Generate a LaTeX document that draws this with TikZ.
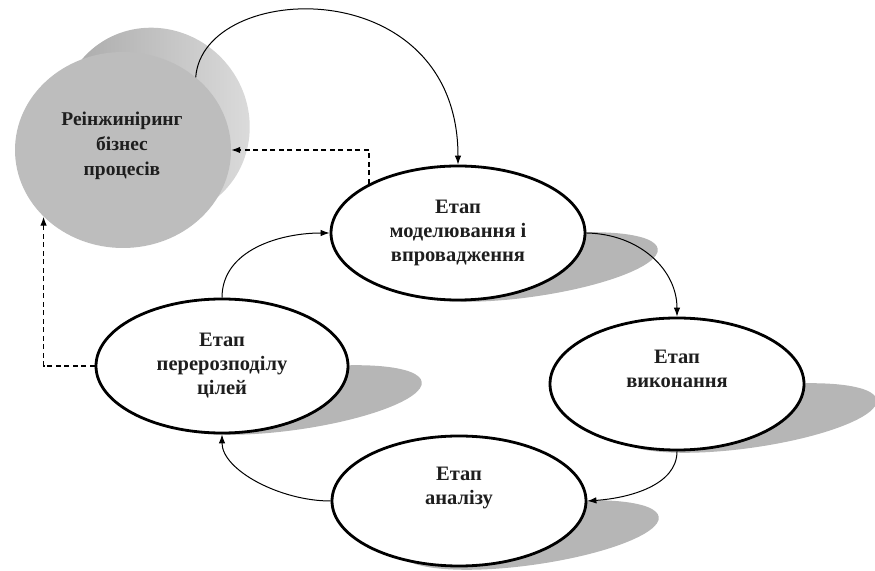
\documentclass[tikz,border=0pt]{standalone}
\usepackage{fontspec}
\setmainfont{Liberation Serif}
\usetikzlibrary{arrows.meta,shapes.geometric}
\definecolor{facegray}{HTML}{BDBDBD}
\definecolor{backdark}{HTML}{A8A8A8}
\definecolor{backlight}{HTML}{DCDCDC}
\definecolor{shadowgray}{HTML}{B6B6B6}
\definecolor{txt}{HTML}{1E1E1E}
\begin{document}
\begin{tikzpicture}[x=1pt,y=1pt,
  stage/.style={ellipse, draw=black, line width=2.8pt, fill=white, inner sep=0pt,
    align=center, font=\bfseries\fontsize{20.5}{24}\selectfont, text=txt},
  bigdisc/.style={ellipse, fill=facegray, inner sep=0pt, minimum width=216pt,
    minimum height=196pt},
  disclabel/.style={align=center, inner sep=0pt, font=\bfseries\fontsize{19.5}{25}\selectfont, text=txt},
  conn/.style={-{Latex[length=9pt,width=6.5pt]}, line width=1pt},
  dconn/.style={-{Latex[length=9pt,width=6.5pt]}, line width=1.3pt, dash pattern=on 5pt off 3.5pt}]
\useasboundingbox (0,0) rectangle (875,570);

% shadows of the stage ellipses
\fill[shadowgray, shift={(529,303)}, rotate=8] (0,0) ellipse [x radius=130, y radius=30];
\fill[shadowgray, shift={(748,152)}, rotate=8] (0,0) ellipse [x radius=130, y radius=30];
\fill[shadowgray, shift={(293,170)}, rotate=8] (0,0) ellipse [x radius=130, y radius=30];
\fill[shadowgray, shift={(530,35)}, rotate=8] (0,0) ellipse [x radius=130, y radius=30];

% back (depth) part of the disc
\begin{scope}
  \clip[shift={(155,447)}, rotate=131] (0,0) ellipse [x radius=97, y radius=93];
  \shade[left color=backdark, right color=backlight] (60,330) rectangle (255,560);
\end{scope}

% nodes
\node[bigdisc] (circ) at (123,420) {};
\node[disclabel] (ctext) at (122,424) {Реінжиніринг\\бізнес\\процесів};
\node[stage, minimum width=254pt, minimum height=134pt] (E1) at (458,337) {Етап\\моделювання і\\впровадження};
\node[stage, minimum width=254pt, minimum height=132pt] (E2) at (677,186) {Етап\\виконання\\\strut};
\node[stage, minimum width=252pt, minimum height=134pt] (E3) at (222,204) {Етап\\перерозподілу\\цілей};
\node[stage, minimum width=254pt, minimum height=130pt] (E4) at (459,69) {Етап\\аналізу\\\strut};

% connectors
\draw[conn] (circ.45) .. controls (203,590) and (458,600) .. (E1.north);
\draw[conn] (E1.east) .. controls (640,336) and (677,300) .. (E2.north);
\draw[conn] (E2.south) .. controls (677,85) and (630,72) .. (E4.east);
\draw[conn] (E4.west) .. controls (280,69) and (222,100) .. (E3.south);
\draw[conn] (E3.north) .. controls (222,320) and (280,337) .. (E1.west);
\draw[dconn] (E1.151) |- (circ.east);
\draw[dconn] (E3.west) -| (circ.220);
\end{tikzpicture}
\end{document}
